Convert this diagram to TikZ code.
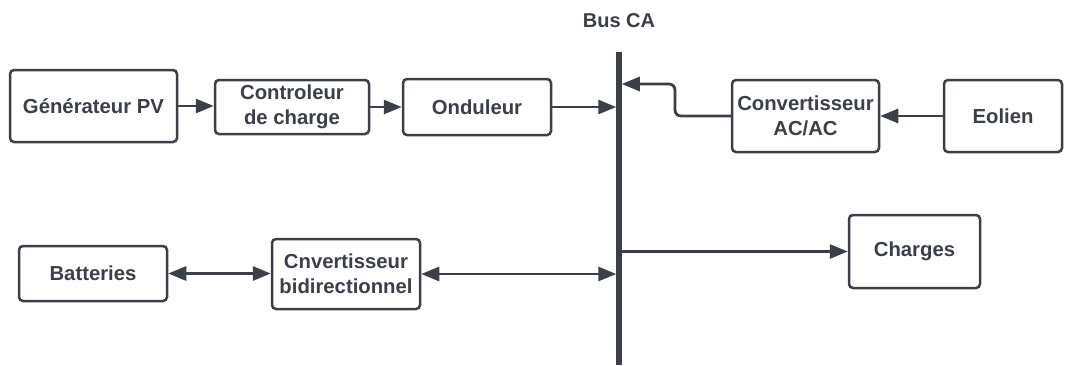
\documentclass[tikz,border=0pt]{standalone}
\usepackage{fontspec}
\setmainfont{Liberation Sans}
\usetikzlibrary{arrows.meta}
\definecolor{ink}{HTML}{3A3F48}
\begin{document}
\begin{tikzpicture}[x=1pt,y=-1pt,
  box/.style={draw=ink, line width=2.5pt, rounded corners=4pt, text=ink,
    font=\fontsize{20.3}{25}\selectfont\bfseries, align=center, inner sep=0pt},
  tip/.style={Triangle[length=18pt,width=14pt]},
  arr/.style={draw=ink, line width=2.8pt, -{Triangle[length=18pt,width=14pt]}},
  darr/.style={draw=ink, line width=2.8pt, {Triangle[length=18pt,width=14pt]}-{Triangle[length=18pt,width=14pt]}},
  lbl/.style={text=ink, font=\fontsize{20}{24}\selectfont\bfseries}]
\useasboundingbox (0,0) rectangle (1065,365);
\fill[white] (0,0) rectangle (1065,365);
\node[box, minimum width=167pt, minimum height=72pt] (gen) at (93.5,106) {Générateur PV};
\node[box, minimum width=154pt, minimum height=54pt] (ctl) at (292,107) {Controleur\\de charge};
\node[box, minimum width=148pt, minimum height=56pt] (ond) at (477,107) {Onduleur};
\node[box, minimum width=147pt, minimum height=72pt] (conv) at (805.5,116) {Convertisseur\\AC/AC};
\node[box, minimum width=118pt, minimum height=72pt] (eol) at (1003,116) {Eolien};
\node[box, minimum width=148pt, minimum height=55pt] (bat) at (93,273.5) {Batteries};
\node[box, minimum width=148pt, minimum height=70pt] (cnv) at (346,274) {Cnvertisseur\\bidirectionnel};
\node[box, minimum width=131pt, minimum height=73pt] (chg) at (914.5,251.5) {Charges};
\coordinate (bus) at (619,52);
\coordinate (busb) at (619,365);
\coordinate (k) at (675,84);
\node[lbl] (buslbl) at (619,21) {Bus CA};
\draw[arr] (bus |- chg.west) -- (chg.west);
\draw[ink, line width=5.5pt] (bus) -- (busb);
\draw[arr] (gen.east) -- (gen.east -| ctl.west);
\draw[arr] (ctl.east) -- (ctl.east -| ond.west);
\draw[arr, shorten >=2.75pt] (ond.east) -- (ond.east -| bus);
\draw[arr] (eol.west) -- (conv.east);
\draw[arr, rounded corners=6pt, shorten >=2.75pt] (conv.west) -| (k) -- (k -| bus);
\draw[darr] (bat.east) -- (bat.east -| cnv.west);
\draw[darr, shorten >=2.75pt] (cnv.east) -- (cnv.east -| bus);
\end{tikzpicture}
\end{document}
